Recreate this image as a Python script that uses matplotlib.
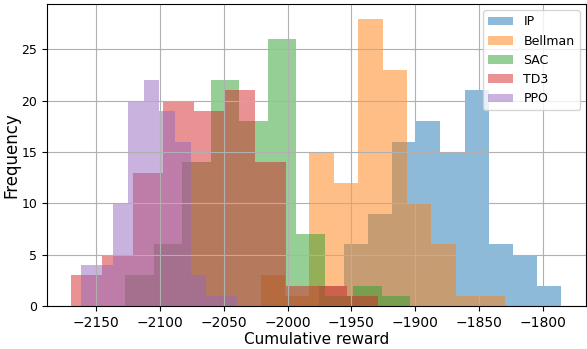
import numpy as np
import matplotlib
matplotlib.use("Agg")
import matplotlib.pyplot as plt

# histogram counts per method (10 bins each)
methods = ["IP", "Bellman", "SAC", "TD3", "PPO"]

ip_range = (-1975.0, -1785.8)
ip_counts = [2, 6, 9, 16, 18, 15, 21, 6, 5, 2]

bellman_range = (-2021.0, -1830.2)
bellman_counts = [3, 1, 15, 12, 28, 23, 10, 6, 1, 1]

sac_range = (-2126.9, -1904.1)
sac_counts = [3, 6, 14, 22, 18, 26, 7, 1, 2, 1]

td3_range = (-2169.0, -1929.1)
td3_counts = [3, 5, 13, 20, 19, 21, 14, 2, 2, 1]

ppo_range = (-2161.2, -2039.3)
ppo_counts = [4, 4, 10, 20, 22, 19, 16, 3, 1, 1]

ranges = [ip_range, bellman_range, sac_range, td3_range, ppo_range]
counts = [ip_counts, bellman_counts, sac_counts, td3_counts, ppo_counts]

fig = plt.figure(figsize=(5.87, 3.49), dpi=100)
ax = fig.add_axes([0.080, 0.123, 0.918, 0.865])

for name, rng, cnt in zip(methods, ranges, counts):
    edges = np.linspace(rng[0], rng[1], len(cnt) + 1)
    centers = (edges[:-1] + edges[1:]) / 2
    ax.hist(centers, bins=len(cnt), range=rng, weights=cnt, alpha=0.5, label=name)

ax.grid(True)
ax.set_xlabel("Cumulative reward", fontsize=11)
ax.set_ylabel("Frequency", fontsize=12)
ax.yaxis.set_label_coords(-0.05, 0.5)
ax.xaxis.set_label_coords(0.5, -0.085)
ax.tick_params(axis="x", labelsize=10)
ax.tick_params(axis="y", labelsize=9)
ax.legend(loc="upper right", fontsize=9)

fig.savefig("out.png", dpi=100)
